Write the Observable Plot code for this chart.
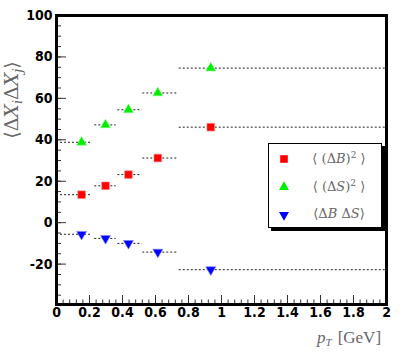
<!DOCTYPE html>
<html><head><meta charset="utf-8">
<script src="https://cdn.jsdelivr.net/npm/d3@7"></script>
<script src="https://cdn.jsdelivr.net/npm/@observablehq/plot@0.6"></script>
<style>
body{margin:0;background:#fff;}
#wrap{position:relative;width:403px;height:354px;overflow:hidden;background:#fff;}
#wrap svg{position:absolute;left:0;top:0;}
#legend{position:absolute;left:268px;top:143px;width:112px;height:83px;background:#fff;border:1px solid #000;box-shadow:3px 3px 0 #000;font-family:"DejaVu Serif",serif;color:#666;font-size:13px;}
#legend .row{position:absolute;left:0;width:112px;height:20px;}
#legend .sym{position:absolute;left:8px;top:3px;}
#legend .lab{position:absolute;left:36px;width:68px;text-align:center;top:1px;white-space:nowrap;}
#legend i{font-style:italic;}
</style></head><body><div id="wrap"></div>
<script>
// data
const ptCenter = [0.152, 0.297, 0.436, 0.614, 0.935];
const binLo   = [0.0, 0.232, 0.372, 0.523, 0.744];
const binHi   = [0.216, 0.362, 0.519, 0.735, 2.0];
const dB2     = [13.5, 17.8, 23.2, 31.2, 46.1];
const dS2     = [38.8, 47.2, 54.5, 62.6, 74.6];
const dBdS    = [-5.6, -7.6, -10.0, -14.2, -22.7];
const xMajor = [0, 0.2, 0.4, 0.6, 0.8, 1, 1.2, 1.4, 1.6, 1.8, 2];
const yMajor = [-20, 0, 20, 40, 60, 80, 100];

const xMinor = d3.range(0, 2.0001, 0.04);
const yMinor = d3.range(-35, 100.001, 5);

const rows = ptCenter.map((x, i) => ({x, lo: binLo[i], hi: binHi[i], b: dB2[i], s: dS2[i], bs: dBdS[i]}));

const downTriangle = {
  draw(context, size) {
    const s3 = Math.sqrt(3);
    const y = Math.sqrt(size / (s3 * 3));
    context.moveTo(0, y * 2);
    context.lineTo(-s3 * y, -y);
    context.lineTo(s3 * y, -y);
    context.closePath();
  }
};

const dash = {stroke: "#222", strokeWidth: 1, strokeDasharray: "2,2"};

const chart = Plot.plot({
  width: 403,
  height: 354,
  marginLeft: 56,
  marginRight: 17,
  marginTop: 15,
  marginBottom: 50,
  style: {fontFamily: '"Liberation Sans Narrow","DejaVu Sans Condensed",sans-serif', fontWeight: "bold", fontSize: "14px", color: "#000", background: "#fff"},
  x: {domain: [0, 2]},
  y: {domain: [-39.5, 100]},
  marks: [
    Plot.ruleY(rows, {x1: "lo", x2: "hi", y: "s", ...dash}),
    Plot.ruleY(rows, {x1: "lo", x2: "hi", y: "b", ...dash}),
    Plot.ruleY(rows, {x1: "lo", x2: "hi", y: "bs", ...dash}),
    Plot.dot(rows, {x: "x", y: "b", symbol: "square", r: 4.3, fill: "#ff0000", stroke: "#ff8080", strokeWidth: 0.6}),
    Plot.dot(rows, {x: "x", y: "s", symbol: "triangle", r: 3.7, fill: "#00ee00", stroke: "#80ff80", strokeWidth: 0.6}),
    Plot.dot(rows, {x: "x", y: "bs", symbol: downTriangle, r: 3.7, fill: "#0000ff", stroke: "#8080ff", strokeWidth: 0.6}),
    Plot.axisY(yMinor, {tickSize: -5, text: null, label: null, stroke: "#333"}),
    Plot.axisY(yMajor, {tickSize: -10, text: null, label: null, stroke: "#333"}),
    Plot.axisY(yMajor, {tickSize: 0, tickPadding: 4, tickFormat: d => String(d), label: null}),
    Plot.axisX(xMinor, {tickSize: -4.5, text: null, label: null, stroke: "#333"}),
    Plot.axisX(xMajor, {tickSize: -9, text: null, label: null, stroke: "#333"}),
    Plot.axisX(xMajor, {tickSize: 0, tickPadding: 3, tickFormat: d => String(d), label: null}),
    Plot.frame({strokeWidth: 3, stroke: "#000"})
  ]
});

const wrap = document.getElementById("wrap");
wrap.appendChild(chart);

const svg = d3.select(chart);
// y title
const yt = svg.append("text")
  .attr("transform", "translate(18,100) rotate(-90)")
  .attr("text-anchor", "middle")
  .attr("font-family", '"DejaVu Serif",serif')
  .attr("font-weight", "normal")
  .attr("font-size", 19)
  .attr("fill", "#666");
yt.append("tspan").text("⟨Δ");
yt.append("tspan").attr("font-style", "italic").text("X");
yt.append("tspan").attr("font-style", "italic").attr("font-size", 13).attr("dy", 4).text("i");
yt.append("tspan").attr("dy", -4).text("Δ");
yt.append("tspan").attr("font-style", "italic").text("X");
yt.append("tspan").attr("font-style", "italic").attr("font-size", 13).attr("dy", 4).text("j");
yt.append("tspan").attr("dy", -4).text("⟩");

// x title
const xt = svg.append("text")
  .attr("x", 317).attr("y", 343)
  .attr("text-anchor", "start")
  .attr("font-family", '"Liberation Serif","DejaVu Serif",serif')
  .attr("font-weight", "normal")
  .attr("font-size", 17)
  .attr("fill", "#666");
xt.append("tspan").attr("font-style", "italic").text("p");
xt.append("tspan").attr("font-style", "italic").attr("font-size", 11).attr("dy", 3).text("T");
xt.append("tspan").attr("dy", -3).attr("dx", 6).text("[GeV]");

// legend
const legend = document.createElement("div");
legend.id = "legend";
const sq = `<svg width="14" height="14"><path d="${d3.symbol(d3.symbolSquare, Math.PI*4.3*4.3)()}" transform="translate(7,7)" fill="#ff0000"/></svg>`;
const tu = `<svg width="14" height="14"><path d="${d3.symbol(d3.symbolTriangle, Math.PI*3.7*3.7)()}" transform="translate(7,7)" fill="#00ee00"/></svg>`;
const td = `<svg width="14" height="14"><path d="${d3.symbol(downTriangle, Math.PI*3.7*3.7)()}" transform="translate(7,7)" fill="#0000ff"/></svg>`;
const entries = [
  [sq, "⟨ (Δ<i>B</i>)<sup style='font-size:9px'>2</sup> ⟩", 5],
  [tu, "⟨ (Δ<i>S</i>)<sup style='font-size:9px'>2</sup> ⟩", 33],
  [td, "⟨Δ<i>B</i> Δ<i>S</i>⟩", 61]
];
legend.innerHTML = entries.map(([s, t, top]) => `<div class="row" style="top:${top}px"><div class="sym">${s}</div><div class="lab">${t}</div></div>`).join("");
wrap.appendChild(legend);
</script>
</body></html>
